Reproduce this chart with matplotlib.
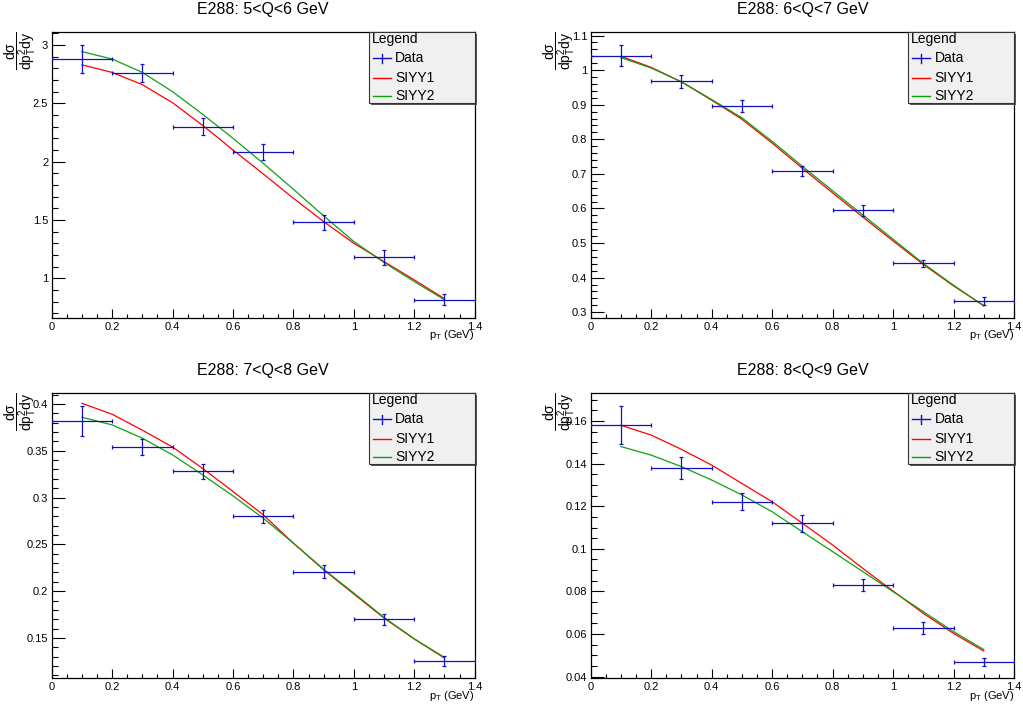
import matplotlib
matplotlib.use("Agg")
import matplotlib.pyplot as plt
from matplotlib.patches import Rectangle
from matplotlib.lines import Line2D
from matplotlib.ticker import MultipleLocator

plt.rcParams['font.family'] = ['Liberation Sans', 'DejaVu Sans']
plt.rcParams['mathtext.fontset'] = 'custom'
plt.rcParams['mathtext.rm'] = 'Liberation Sans'
plt.rcParams['mathtext.it'] = 'Liberation Sans'
plt.rcParams['mathtext.bf'] = 'Liberation Sans:bold'

# ---------------- data ----------------
titles = ["E288: 5<Q<6 GeV", "E288: 6<Q<7 GeV", "E288: 7<Q<8 GeV", "E288: 8<Q<9 GeV"]

pt = [0.1, 0.3, 0.5, 0.7, 0.9, 1.1, 1.3]
pt_err = [0.1, 0.1, 0.1, 0.1, 0.1, 0.1, 0.1]

data_q56 = [2.88, 2.76, 2.30, 2.08, 1.48, 1.18, 0.817]
err_q56 = [0.12, 0.08, 0.07, 0.07, 0.063, 0.062, 0.05]
data_q67 = [1.042, 0.968, 0.896, 0.709, 0.595, 0.441, 0.332]
err_q67 = [0.031, 0.019, 0.017, 0.015, 0.016, 0.011, 0.011]
data_q78 = [0.382, 0.354, 0.328, 0.280, 0.221, 0.170, 0.1254]
err_q78 = [0.016, 0.009, 0.008, 0.007, 0.007, 0.006, 0.005]
data_q89 = [0.158, 0.138, 0.122, 0.112, 0.083, 0.0628, 0.0469]
err_q89 = [0.009, 0.005, 0.004, 0.004, 0.003, 0.003, 0.002]

pt_curve = [0.1, 0.2, 0.3, 0.4, 0.5, 0.6, 0.7, 0.8, 0.9, 1.0, 1.1, 1.2, 1.3]

siyy1_q56 = [2.83, 2.765, 2.66, 2.505, 2.31, 2.10, 1.895, 1.686, 1.486, 1.30, 1.143, 0.986, 0.825]
siyy2_q56 = [2.943, 2.88, 2.765, 2.60, 2.405, 2.20, 1.986, 1.763, 1.535, 1.315, 1.135, 0.972, 0.815]
siyy1_q67 = [1.040, 1.008, 0.966, 0.913, 0.858, 0.789, 0.716, 0.645, 0.575, 0.506, 0.438, 0.376, 0.319]
siyy2_q67 = [1.036, 1.006, 0.966, 0.915, 0.862, 0.794, 0.722, 0.651, 0.581, 0.511, 0.441, 0.378, 0.318]
siyy1_q78 = [0.4007, 0.389, 0.372, 0.354, 0.331, 0.3065, 0.2816, 0.2513, 0.2229, 0.197, 0.1713, 0.1489, 0.1286]
siyy2_q78 = [0.3858, 0.3776, 0.3634, 0.3456, 0.3242, 0.3018, 0.278, 0.2513, 0.2236, 0.198, 0.172, 0.1492, 0.1293]
siyy1_q89 = [0.158, 0.1534, 0.1467, 0.1393, 0.1307, 0.1221, 0.112, 0.1018, 0.0908, 0.0802, 0.0697, 0.0603, 0.052]
siyy2_q89 = [0.148, 0.144, 0.1386, 0.1323, 0.1253, 0.1174, 0.108, 0.0987, 0.0893, 0.0799, 0.0705, 0.0611, 0.0527]

legend_labels = ["Data", "SIYY1", "SIYY2"]

panels = [
    (data_q56, err_q56, siyy1_q56, siyy2_q56),
    (data_q67, err_q67, siyy1_q67, siyy2_q67),
    (data_q78, err_q78, siyy1_q78, siyy2_q78),
    (data_q89, err_q89, siyy1_q89, siyy2_q89),
]

# axis settings
ylims = [(0.662, 3.114), (0.284, 1.111), (0.107, 0.412), (0.0392, 0.1733)]
ymajor = [0.5, 0.1, 0.05, 0.02]
yminor = [0.1, 0.02, 0.01, 0.005]

# ---------------- figure ----------------
W, H = 1023, 713
fig = plt.figure(figsize=(W / 100, H / 100), dpi=100)

# axes boxes in pixels: left, right, top, bottom
boxes = [
    (51.7, 474.7, 31.7, 317.7),
    (590.7, 1014.0, 31.7, 317.7),
    (51.7, 474.7, 392.7, 678.3),
    (590.7, 1014.0, 392.7, 678.3),
]

data_col = '#1010c0'
red = '#ff0000'
green = '#10a010'

for i, (box, (d, e, s1, s2)) in enumerate(zip(boxes, panels)):
    l, r, t, b = box
    ax = fig.add_axes([l / W, 1 - b / H, (r - l) / W, (b - t) / H])
    axh = b - t
    axw = r - l

    ax.plot(pt_curve, s1, color=red, lw=0.9, zorder=3)
    ax.plot(pt_curve, s2, color=green, lw=0.9, zorder=3)
    ax.errorbar(pt, d, xerr=pt_err, yerr=e, fmt='none', ecolor=data_col,
                elinewidth=0.9, capsize=1.4, capthick=0.9, zorder=4)

    ax.set_xlim(0, 1.4)
    ax.set_ylim(*ylims[i])
    ax.xaxis.set_major_locator(MultipleLocator(0.2))
    ax.xaxis.set_minor_locator(MultipleLocator(0.05))
    ax.yaxis.set_major_locator(MultipleLocator(ymajor[i]))
    ax.yaxis.set_minor_locator(MultipleLocator(yminor[i]))
    ax.xaxis.set_major_formatter(plt.FuncFormatter(lambda v, p: f"{v:g}"))
    ax.yaxis.set_major_formatter(plt.FuncFormatter(lambda v, p: f"{round(v, 4):g}"))

    xl = 0.03 * axh * 0.72
    yl = 0.03 * axw * 0.72
    ax.tick_params(axis='x', which='major', direction='in', length=xl, width=0.8,
                   labelsize=8, pad=3, top=False)
    ax.tick_params(axis='x', which='minor', direction='in', length=xl / 2, width=0.8, top=False)
    ax.tick_params(axis='y', which='major', direction='in', length=yl, width=0.8,
                   labelsize=8, pad=2.5, right=False)
    ax.tick_params(axis='y', which='minor', direction='in', length=yl / 2, width=0.8, right=False)
    for sp in ax.spines.values():
        sp.set_linewidth(0.9)

    # title
    ax.text(0.5, 1 + 22.5 / axh, titles[i], transform=ax.transAxes, ha='center',
            va='center', fontsize=11.5)
    # x label
    ax.text(1.0, -17.5 / axh, r'p$_{\mathrm{T}}$ (GeV)', transform=ax.transAxes,
            ha='right', va='center', fontsize=8)
    # y label
    ax.text(-32.0 / axw, 1.0, r'$\dfrac{\mathrm{d\sigma}}{\mathrm{dp_{T}^{2}dy}}$',
            transform=ax.transAxes, rotation=90, ha='center', va='top', fontsize=10)

    # legend box
    x0, y0 = 0.75, 0.752
    sh_dx, sh_dy = 2 / axw, 2 / axh
    ax.add_patch(Rectangle((x0 + sh_dx, y0 - sh_dy), 1 - x0, 1 - y0, transform=ax.transAxes,
                           facecolor='#555555', edgecolor='none', clip_on=False, zorder=9))
    ax.add_patch(Rectangle((x0, y0), 1 - x0, 1 - y0, transform=ax.transAxes,
                           facecolor='#f0f0f0', edgecolor='#333333', lw=0.8,
                           clip_on=False, zorder=10))
    ax.text(0.757, 0.975, "Legend", transform=ax.transAxes, ha='left', va='center',
            fontsize=10, zorder=11)
    ys = [0.907, 0.839, 0.775]
    lx0, lx1, tx = 0.759, 0.801, 0.812
    cols = [data_col, red, green]
    for yy, lab, c in zip(ys, legend_labels, cols):
        ax.add_line(Line2D([lx0, lx1], [yy, yy], transform=ax.transAxes, color=c,
                           lw=1.0, zorder=11, clip_on=False))
        if lab == "Data":
            xm = (lx0 + lx1) / 2
            ax.add_line(Line2D([xm, xm], [yy - 4.5 / axh, yy + 4.5 / axh],
                               transform=ax.transAxes, color=c, lw=1.0, zorder=11,
                               clip_on=False))
        ax.text(tx, yy, lab, transform=ax.transAxes, ha='left', va='center',
                fontsize=10, zorder=11)

fig.savefig("out.png", dpi=100)
